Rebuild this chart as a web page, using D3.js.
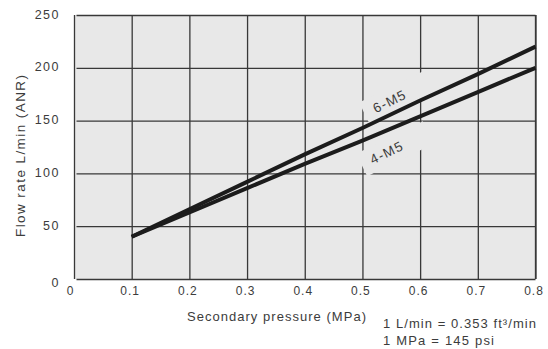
<!DOCTYPE html>
<html>
<head>
<meta charset="utf-8">
<script src="https://cdn.jsdelivr.net/npm/d3@7"></script>
<style>
  html, body { margin: 0; padding: 0; background: #fff; }
  svg { display: block; font-family: "Liberation Sans", Arial, Helvetica, sans-serif; }
</style>
</head>
<body>
<svg id="chart" width="548" height="349"></svg>
<script>
// ---- data ----
const pressure = [0.1, 0.2, 0.3, 0.4, 0.5, 0.6, 0.7, 0.8];
const flow6M5 = [40, 66, 92, 118, 143, 169, 194, 220];
const flow4M5 = [40, 63, 86, 109, 131, 154, 177, 200];
const seriesNames = ["6-M5", "4-M5"];
const xTicks = [0, 0.1, 0.2, 0.3, 0.4, 0.5, 0.6, 0.7, 0.8];
const xTickLabels = ["0", "0.1", "0.2", "0.3", "0.4", "0.5", "0.6", "0.7", "0.8"];
const yTicks = [0, 50, 100, 150, 200, 250];
const yTickLabels = ["0", "50", "100", "150", "200", "250"];
const xTitle = "Secondary pressure (MPa)";
const yTitle = "Flow rate L/min (ANR)";
const noteLines = ["1 L/min = 0.353 ft³/min", "1 MPa = 145 psi"];

// ---- layout ----
const svg = d3.select("#chart");
const plot = { left: 74, right: 535.5, top: 15, bottom: 279 };
const x = d3.scaleLinear().domain([0, 0.8]).range([plot.left, plot.right]);
const y = d3.scaleLinear().domain([0, 250]).range([plot.bottom, plot.top]);
const gridColor = "#383838";
const textColor = "#3c3c3c";
const bgColor = "#e8e8e8";

// background
svg.append("rect")
  .attr("x", plot.left).attr("y", plot.top)
  .attr("width", plot.right - plot.left).attr("height", plot.bottom - plot.top)
  .attr("fill", bgColor);

// grid via axes
const gx = svg.append("g")
  .attr("transform", `translate(0,${plot.bottom})`)
  .call(d3.axisBottom(x).tickValues(xTicks)
    .tickFormat((d, i) => xTickLabels[i])
    .tickSizeInner(-(plot.bottom - plot.top)).tickSizeOuter(0).tickPadding(7.5));
gx.select(".domain").remove();
gx.selectAll(".tick line").attr("stroke", gridColor).attr("stroke-width", 1.3);
gx.selectAll(".tick text")
  .attr("fill", textColor).attr("font-size", 12).attr("letter-spacing", 1)
  .attr("font-family", "Liberation Sans, Arial, sans-serif")
  .attr("dx", (d, i) => i === 0 ? -4 : -2);

const gy = svg.append("g")
  .attr("transform", `translate(${plot.left},0)`)
  .call(d3.axisLeft(y).tickValues(yTicks)
    .tickFormat((d, i) => yTickLabels[i])
    .tickSizeInner(-(plot.right - plot.left)).tickSizeOuter(0).tickPadding(14));
gy.select(".domain").remove();
gy.selectAll(".tick line").attr("stroke", gridColor).attr("stroke-width", 1.3)
  .attr("x1", 2.5);
gy.selectAll(".tick text")
  .attr("fill", textColor).attr("font-size", 12.5).attr("letter-spacing", 1.5)
  .attr("font-family", "Liberation Sans, Arial, sans-serif")
  .attr("dy", (d, i) => i === 0 ? "0.62em" : "0.25em");

// right frame line
svg.append("line")
  .attr("x1", x(0.8)).attr("x2", x(0.8))
  .attr("y1", y(250)).attr("y2", y(0))
  .attr("stroke", gridColor).attr("stroke-width", 1.3);

// series label positions (layout, not data)
const labelAt = [
  { px: 0.547, py: 168.5 },
  { px: 0.542, py: 120 }
];
const angle = -26;

// masks behind labels (break the grid lines)
labelAt.forEach(p => {
  svg.append("rect")
    .attr("transform", `translate(${x(p.px)},${y(p.py)}) rotate(${angle})`)
    .attr("x", -28).attr("y", -12).attr("width", 74).attr("height", 25)
    .attr("fill", bgColor);
});

// lines
const series = [flow6M5, flow4M5];
const line = d3.line().x((d, i) => x(pressure[i])).y(d => y(d));
series.forEach(vals => {
  svg.append("path")
    .datum(vals)
    .attr("d", line)
    .attr("fill", "none")
    .attr("stroke", "#1c1c1c")
    .attr("stroke-width", 4);
});

// series labels
labelAt.forEach((p, i) => {
  svg.append("text")
    .attr("transform", `translate(${x(p.px)},${y(p.py)}) rotate(${angle})`)
    .attr("text-anchor", "middle").attr("dy", "0.36em")
    .attr("font-size", 13.5).attr("letter-spacing", 1.2)
    .attr("fill", textColor)
    .text(seriesNames[i]);
});

// axis titles
svg.append("text")
  .attr("x", 187).attr("y", 321)
  .attr("font-size", 13)
  .attr("textLength", 179).attr("lengthAdjust", "spacing")
  .attr("fill", textColor)
  .text(xTitle);

svg.append("text")
  .attr("transform", "translate(25,237) rotate(-90)")
  .attr("font-size", 13.5)
  .attr("textLength", 162).attr("lengthAdjust", "spacing")
  .attr("fill", textColor)
  .text(yTitle);

// unit note
const noteLen = [153, 111];
noteLines.forEach((t, i) => {
  svg.append("text")
    .attr("x", 383).attr("y", 328 + i * 17)
    .attr("font-size", 13)
    .attr("textLength", noteLen[i]).attr("lengthAdjust", "spacing")
    .attr("fill", textColor)
    .text(t);
});
</script>
</body>
</html>
